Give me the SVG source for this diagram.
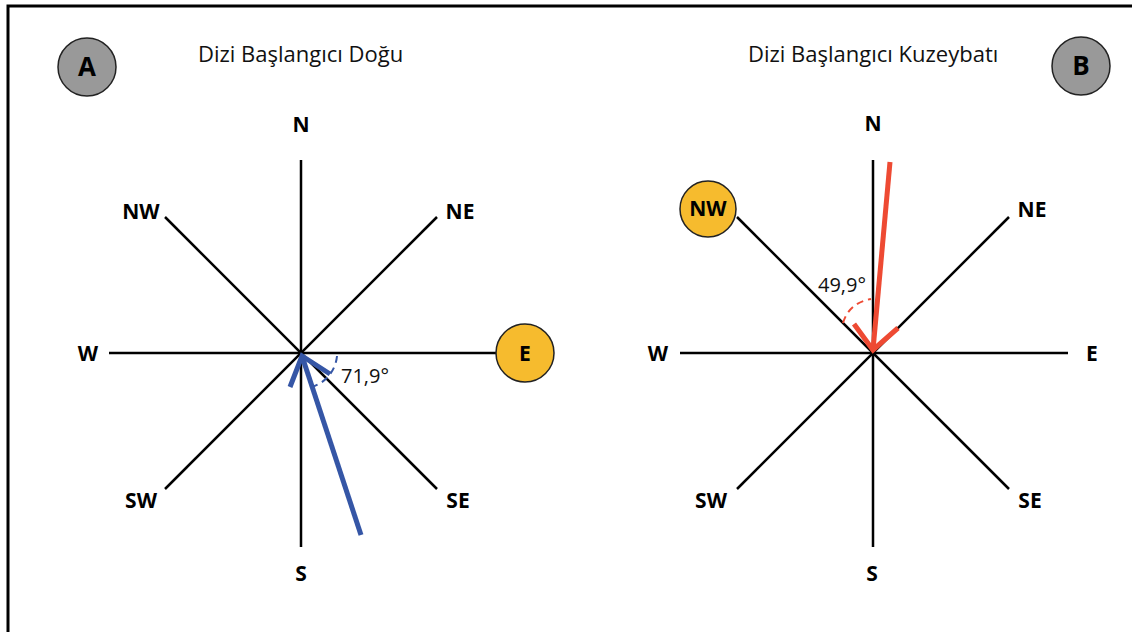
<svg xmlns="http://www.w3.org/2000/svg" width="1132" height="632" viewBox="0 0 1132 632">
<style>
.ax{stroke:#000;stroke-width:2.5;fill:none}
.lbl{font-family:"Open Sans","Liberation Sans",sans-serif;font-weight:bold;font-size:21px;fill:#000;text-anchor:middle}
.ttl{font-family:"Open Sans","Liberation Sans",sans-serif;font-size:22px;fill:#111}
.ang{font-family:"Open Sans","Liberation Sans",sans-serif;font-size:20px;fill:#111}
.badge{fill:#999;stroke:#222;stroke-width:1.5}
.sun{fill:#F6BB2E;stroke:#222;stroke-width:1.5}
</style>
<rect width="1132" height="632" fill="#fff"/>
<path d="M8 640 V6 H1140" fill="none" stroke="#000" stroke-width="3"/>

<g id="badgeA"><circle class="badge" cx="87" cy="67" r="29"/><text class="lbl" x="87" y="76" style="font-size:26px">A</text></g>
<g id="titleA"><text class="ttl" x="198" y="62">Dizi Başlangıcı Doğu</text></g>
<g id="badgeB"><circle class="badge" cx="1081" cy="66" r="29"/><text class="lbl" x="1081" y="75" style="font-size:26px">B</text></g>
<g id="titleB"><text class="ttl" x="748" y="62">Dizi Başlangıcı Kuzeybatı</text></g>

<g id="compassA">
<line class="ax" x1="301" y1="160" x2="301" y2="547"/>
<line class="ax" x1="109" y1="353" x2="497" y2="353"/>
<line class="ax" x1="165" y1="217" x2="437" y2="489"/>
<line class="ax" x1="437" y1="217" x2="165" y2="489"/>
<text class="lbl" x="301" y="132">N</text>
<text class="lbl" x="141" y="219">NW</text>
<text class="lbl" x="460" y="219">NE</text>
<text class="lbl" x="88" y="361">W</text>
<text class="lbl" x="141" y="508">SW</text>
<text class="lbl" x="458" y="508">SE</text>
<text class="lbl" x="301" y="581">S</text>
</g>
<g id="sunA"><circle class="sun" cx="525" cy="353" r="29"/><text class="lbl" x="525" y="361">E</text></g>

<g id="compassB">
<line class="ax" x1="873" y1="160" x2="873" y2="547"/>
<line class="ax" x1="680" y1="353" x2="1068" y2="353"/>
<line class="ax" x1="737" y1="217" x2="1009" y2="489"/>
<line class="ax" x1="1009" y1="217" x2="737" y2="489"/>
<text class="lbl" x="873" y="131">N</text>
<text class="lbl" x="1032" y="217">NE</text>
<text class="lbl" x="658" y="361">W</text>
<text class="lbl" x="1092" y="361">E</text>
<text class="lbl" x="711" y="508">SW</text>
<text class="lbl" x="1030" y="508">SE</text>
<text class="lbl" x="872" y="581">S</text>
</g>
<g id="sunB"><circle class="sun" cx="708" cy="209" r="28"/><text class="lbl" x="708" y="216">NW</text></g>

<g id="connectors">
<g id="arrowA" stroke="#3556A6" fill="none">
<line x1="361" y1="535" x2="302" y2="356" stroke-width="5"/>
<polyline points="290,387 302,356 330,374" stroke-width="5"/>
<path d="M337 356 A36 36 0 0 1 312 387" stroke-width="2" stroke-dasharray="7 5"/>
</g>
<text class="ang" x="341" y="383">71,9°</text>
<g id="arrowB" stroke="#EE4A33" fill="none">
<line x1="890" y1="162" x2="873" y2="350" stroke-width="5"/>
<polyline points="854,324 873,350 898,328" stroke-width="5"/>
<path d="M843 323 Q849 303 871 299" stroke-width="2" stroke-dasharray="7 5"/>
</g>
<text class="ang" x="818" y="292">49,9°</text>
</g>
</svg>
